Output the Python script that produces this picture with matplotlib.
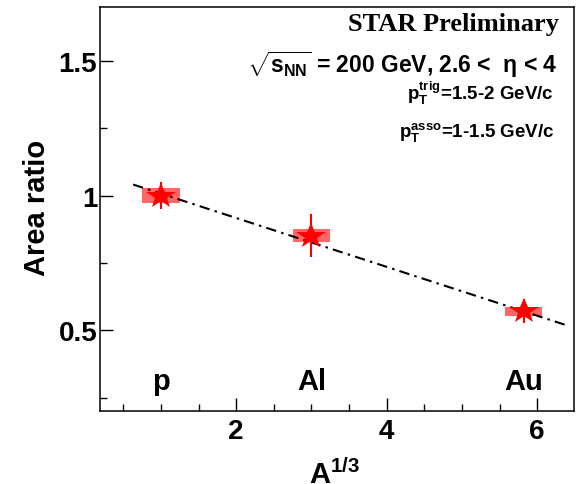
import numpy as np
import matplotlib.pyplot as plt
from matplotlib.markers import MarkerStyle
from matplotlib.transforms import Affine2D

plt.rcParams['font.family'] = 'Liberation Sans'
plt.rcParams['font.weight'] = 'bold'
plt.rcParams['mathtext.fontset'] = 'custom'
plt.rcParams['mathtext.rm'] = 'Liberation Sans:bold'
plt.rcParams['mathtext.it'] = 'Liberation Sans:bold'
plt.rcParams['mathtext.bf'] = 'Liberation Sans:bold'

# nuclei and their A^(1/3)
nuclei = ['p', 'Al', 'Au']
a_third = [1.0, 3.0, 5.82]
area_ratio = [1.0, 0.85, 0.57]
stat_err = [0.05, 0.08, 0.045]
sys_err = [0.028, 0.024, 0.017]

# linear fit through the points
fit_slope = -0.0907
fit_intercept = 1.098
fit_xmin, fit_xmax = 0.63, 6.37

fig = plt.figure(figsize=(5.87, 4.85), dpi=100)
ax = fig.add_axes([100/587, 73/485, 474/587, 404/485])

# sys. boxes
sys_lo = [r - s for r, s in zip(area_ratio, sys_err)]
sys_h = [2 * s for s in sys_err]
ax.bar(a_third, sys_h, bottom=sys_lo, width=0.5, color='red', alpha=0.6,
       linewidth=0, zorder=2)

xf = np.array([fit_xmin, fit_xmax])
ax.plot(xf, fit_slope * xf + fit_intercept, color='black', lw=1.5,
        linestyle=(0, (5, 2.5, 1.2, 2.5)), zorder=3)

ax.errorbar(a_third, area_ratio, yerr=stat_err, fmt='none', ecolor='red',
            elinewidth=1.5, zorder=4)
# squat star like the ROOT marker
star = MarkerStyle('*', transform=Affine2D().scale(1.0, 0.82))
ax.plot(a_third, area_ratio, linestyle='none', marker=star, color='red',
        markersize=23, markeredgewidth=0, zorder=5)

for name, x in zip(nuclei, a_third):
    ax.text(x, 0.281, name, ha='center', va='baseline', fontsize=21,
            fontweight='bold')

ax.set_xlim(0.19, 6.49)
ax.set_ylim(0.2, 1.7)
ax.set_xticks([2, 4, 6])
ax.set_xticks(np.arange(0.5, 6.5, 0.5), minor=True)
ax.set_yticks([0.5, 1.0, 1.5])
ax.set_yticklabels(['0.5', '1', '1.5'])
ax.set_yticks([0.25, 0.75, 1.25], minor=True)
ax.tick_params(which='both', direction='in', top=False, right=False,
               labelsize=20, width=1)
ax.tick_params(which='major', length=9.5)
ax.tick_params(which='minor', length=5)
ax.tick_params(axis='x', pad=5)
ax.tick_params(axis='y', pad=2)
for sp in ax.spines.values():
    sp.set_linewidth(1.1)

fig.text(37/587, 1 - 208/485, 'Area ratio', rotation=90, ha='center',
         va='center', fontsize=21, fontweight='bold')
fig.text(334/587, 1/485, r'A$^{1/3}$', ha='center', va='baseline',
         fontsize=21, fontweight='bold')

ax.text(0.968, 0.944, 'STAR Preliminary', transform=ax.transAxes, ha='right',
        va='baseline', fontsize=19, fontweight='bold', family='Liberation Serif')
ax.text(0.966, 0.840, r'$\sqrt{s_{NN}}$ = 200 GeV, 2.6 <  $\eta$ < 4',
        transform=ax.transAxes, ha='right', va='baseline', fontsize=16.5)
ax.text(0.958, 0.772, r'p$_T^{trig}$=1.5-2 GeV/c', transform=ax.transAxes,
        ha='right', va='baseline', fontsize=13.5)
ax.text(0.958, 0.681, r'p$_T^{asso}$=1-1.5 GeV/c', transform=ax.transAxes,
        ha='right', va='baseline', fontsize=13.5)

fig.savefig('out.png', dpi=100)
